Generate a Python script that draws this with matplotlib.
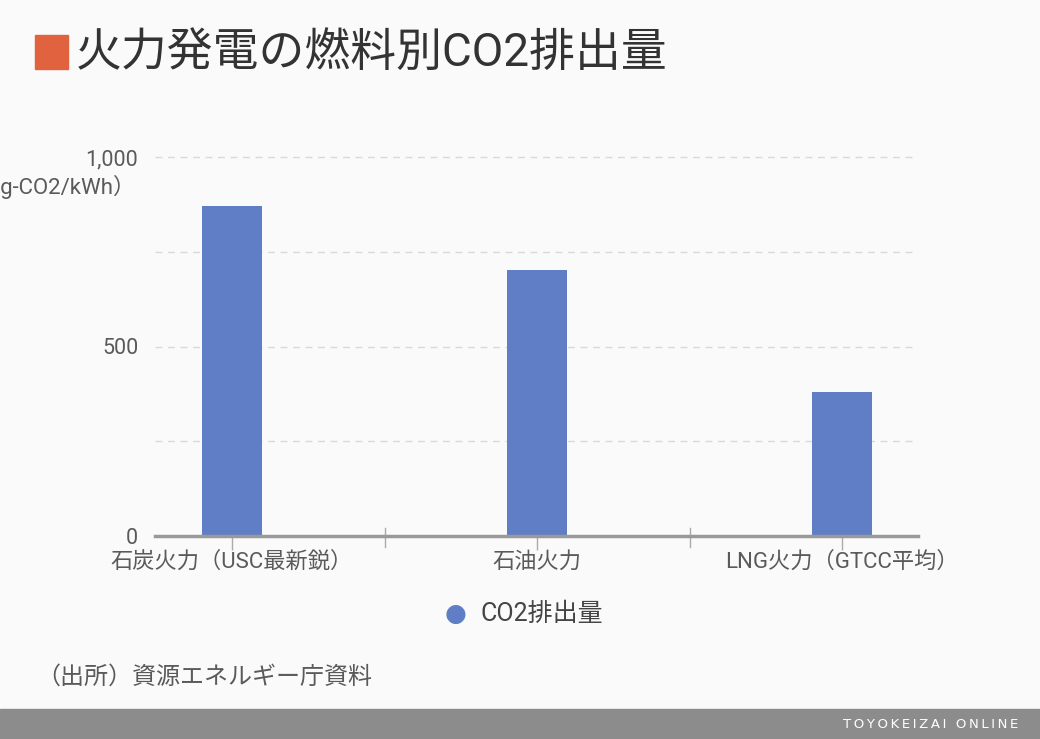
"""
火力発電の燃料別CO2排出量（棒グラフ）
"""
import matplotlib
matplotlib.use("Agg")
import matplotlib.pyplot as plt
from matplotlib.patches import Rectangle

matplotlib.rcParams["font.family"] = ["Roboto", "Noto Sans CJK JP", "DejaVu Sans"]
matplotlib.rcParams["axes.unicode_minus"] = False

# データ
categories = ["石炭火力（USC最新鋭）", "石油火力", "LNG火力（GTCC平均）"]
co2_values = [871, 702, 380]
y_ticks = [0, 500, 1000]
y_tick_labels = ["0", "500", "1,000"]
grid_levels = [250, 500, 750, 1000]

BG = "#fafafa"
BAR_COLOR = "#5f7ec5"
TEXT_COLOR = "#5a5a5a"

W, H = 1040, 739
fig = plt.figure(figsize=(W / 100, H / 100), dpi=100, facecolor=BG)

# 軸の配置（ピクセル基準）
ax_left, ax_right, ax_bottom, ax_top = 155, 918, 739 - 536, 739 - 140
ax = fig.add_axes([ax_left / W, ax_bottom / H, (ax_right - ax_left) / W, (ax_top - ax_bottom) / H])
ax.set_facecolor(BG)

x = list(range(len(categories)))
ax.bar(x, co2_values, width=0.197, color=BAR_COLOR, zorder=3)

ax.set_xlim(-0.2525, 2.249)
ax.set_ylim(0, 1000 * (ax_top - ax_bottom) / (536 - 157))

for lv in grid_levels:
    ax.axhline(lv, color="#d9d9d9", linestyle=(0, (5, 4)), linewidth=1, zorder=1)
ax.axhline(0, color="#999999", linewidth=2.5, zorder=4, clip_on=False)

for s in ax.spines.values():
    s.set_visible(False)

ax.set_yticks(y_ticks)
ax.set_yticklabels(y_tick_labels)
ax.tick_params(axis="y", length=0, pad=12, labelsize=15.5, labelcolor=TEXT_COLOR)
ax.set_xticks(x)
ax.set_xticklabels(categories)
ax.tick_params(axis="x", length=10, width=1, color="#aaaaaa", pad=1,
               labelsize=16, labelcolor=TEXT_COLOR)

# カテゴリ区切り線
for sep in [0.5, 1.5]:
    ax.plot([sep, sep], [-28, 22], color="#aaaaaa", linewidth=1,
            clip_on=False, zorder=2)

# 単位ラベル（参照画像と同様に左端で切れる）
fig.text(136 / W, 1 - 187 / H, "（g-CO2/kWh）", ha="right", va="center",
         fontsize=16, color=TEXT_COLOR)

# タイトル
fig.patches.append(Rectangle((35 / W, 1 - 69 / H), 33 / W, 34 / H,
                             transform=fig.transFigure, color="#e0623f"))
fig.text(76 / W, 1 - 53 / H, "火力発電の燃料別CO2排出量", ha="left", va="center",
         fontsize=33, color="#333333")

# 凡例
fig.text(456 / W, 1 - 614 / H, "●", ha="center", va="center",
         fontsize=18, color=BAR_COLOR, family="DejaVu Sans")
fig.text(481 / W, 1 - 614 / H, "CO2排出量", ha="left", va="center",
         fontsize=18, color="#444444")

# 出所
fig.text(36 / W, 1 - 677 / H, "（出所）資源エネルギー庁資料", ha="left", va="center",
         fontsize=17.3, color=TEXT_COLOR)

# フッター
fig.patches.append(Rectangle((0, 0), 1, 30 / H, transform=fig.transFigure,
                             color="#8c8c8c"))
fig.text(1018 / W, 15 / H, "\u2009".join("TOYOKEIZAI ONLINE"),
         ha="right", va="center", fontsize=9.5, color="white", family="DejaVu Sans")

fig.savefig("out.png", dpi=100, facecolor=BG)
